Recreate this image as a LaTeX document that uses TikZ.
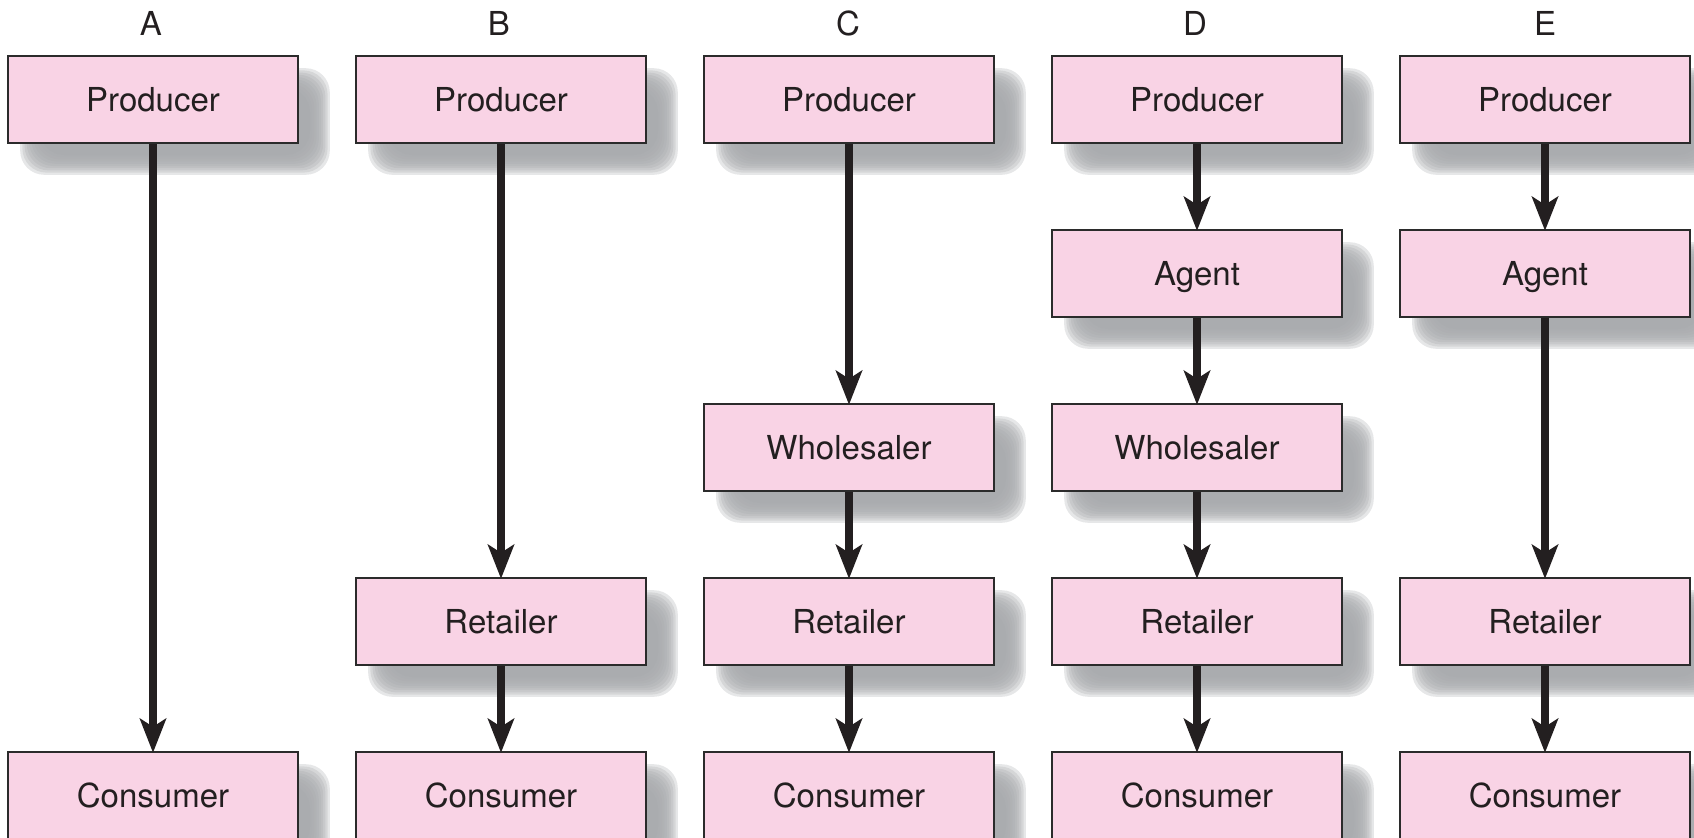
\documentclass[tikz,border=0pt]{standalone}
\usepackage{fontspec}
\setmainfont{TeX Gyre Heros}
\usetikzlibrary{arrows.meta}
\definecolor{boxpink}{HTML}{F9D3E5}
\definecolor{boxline}{HTML}{2B2B2B}
\definecolor{shadowgray}{HTML}{A7A9AC}
\definecolor{txt}{HTML}{231F20}
\tikzset{
  chanbox/.style={draw=boxline, line width=1.2pt, fill=boxpink, minimum width=145pt, minimum height=43.5pt, inner sep=0pt, text=txt, font=\fontsize{16.5}{18}\selectfont, text height=11.9pt, text depth=0pt},
  collabel/.style={text=txt, font=\fontsize{16.5}{18}\selectfont, anchor=base},
  flow/.style={line width=4pt, draw=txt, -{Stealth[length=17pt, width=13pt, inset=4pt]}, shorten >=-1pt}
}
\newcommand{\blurshadow}[2]{% #1 = x center, #2 = y center (px)
  \foreach \k in {0,...,9}{
    \pgfmathsetmacro{\d}{-10+2.2*\k}
    \fill[shadowgray, opacity=0.28, rounded corners=12]
      ({#1+22-145-\d},{#2+22-43.5-\d}) rectangle ({#1+22+145+\d},{#2+22+43.5+\d});
  }
}
\begin{document}
\begin{tikzpicture}[x=0.5pt,y=-0.5pt]
\useasboundingbox (0,0) rectangle (1694,837);
% shadows
\foreach \cx/\rows in {153/{99.5,795.5},501/{99.5,621.5,795.5},849/{99.5,447.5,621.5,795.5},1197/{99.5,273.5,447.5,621.5,795.5},1545/{99.5,273.5,621.5,795.5}}{
  \foreach \cy in \rows { \blurshadow{\cx}{\cy} }
}
% column labels
\node[collabel] (la) at (151,35) {A};
\node[collabel] (lb) at (499,35) {B};
\node[collabel] (lc) at (848,35) {C};
\node[collabel] (ld) at (1195,35) {D};
\node[collabel] (le) at (1545,35) {E};
% column A
\node[chanbox] (ap) at (153,99.5) {Producer};
\node[chanbox] (ac) at (153,795.5) {Consumer};
% column B
\node[chanbox] (bp) at (501,99.5) {Producer};
\node[chanbox] (br) at (501,621.5) {Retailer};
\node[chanbox] (bc) at (501,795.5) {Consumer};
% column C
\node[chanbox] (cp) at (849,99.5) {Producer};
\node[chanbox] (cw) at (849,447.5) {Wholesaler};
\node[chanbox] (cr) at (849,621.5) {Retailer};
\node[chanbox] (cc) at (849,795.5) {Consumer};
% column D
\node[chanbox] (dp) at (1197,99.5) {Producer};
\node[chanbox] (da) at (1197,273.5) {Agent};
\node[chanbox] (dw) at (1197,447.5) {Wholesaler};
\node[chanbox] (dr) at (1197,621.5) {Retailer};
\node[chanbox] (dc) at (1197,795.5) {Consumer};
% column E
\node[chanbox] (ep) at (1545,99.5) {Producer};
\node[chanbox] (ea) at (1545,273.5) {Agent};
\node[chanbox] (er) at (1545,621.5) {Retailer};
\node[chanbox] (ec) at (1545,795.5) {Consumer};
% arrows
\draw[flow] (ap) -- (ac);
\draw[flow] (bp) -- (br);
\draw[flow] (br) -- (bc);
\draw[flow] (cp) -- (cw);
\draw[flow] (cw) -- (cr);
\draw[flow] (cr) -- (cc);
\draw[flow] (dp) -- (da);
\draw[flow] (da) -- (dw);
\draw[flow] (dw) -- (dr);
\draw[flow] (dr) -- (dc);
\draw[flow] (ep) -- (ea);
\draw[flow] (ea) -- (er);
\draw[flow] (er) -- (ec);
\end{tikzpicture}
\end{document}
